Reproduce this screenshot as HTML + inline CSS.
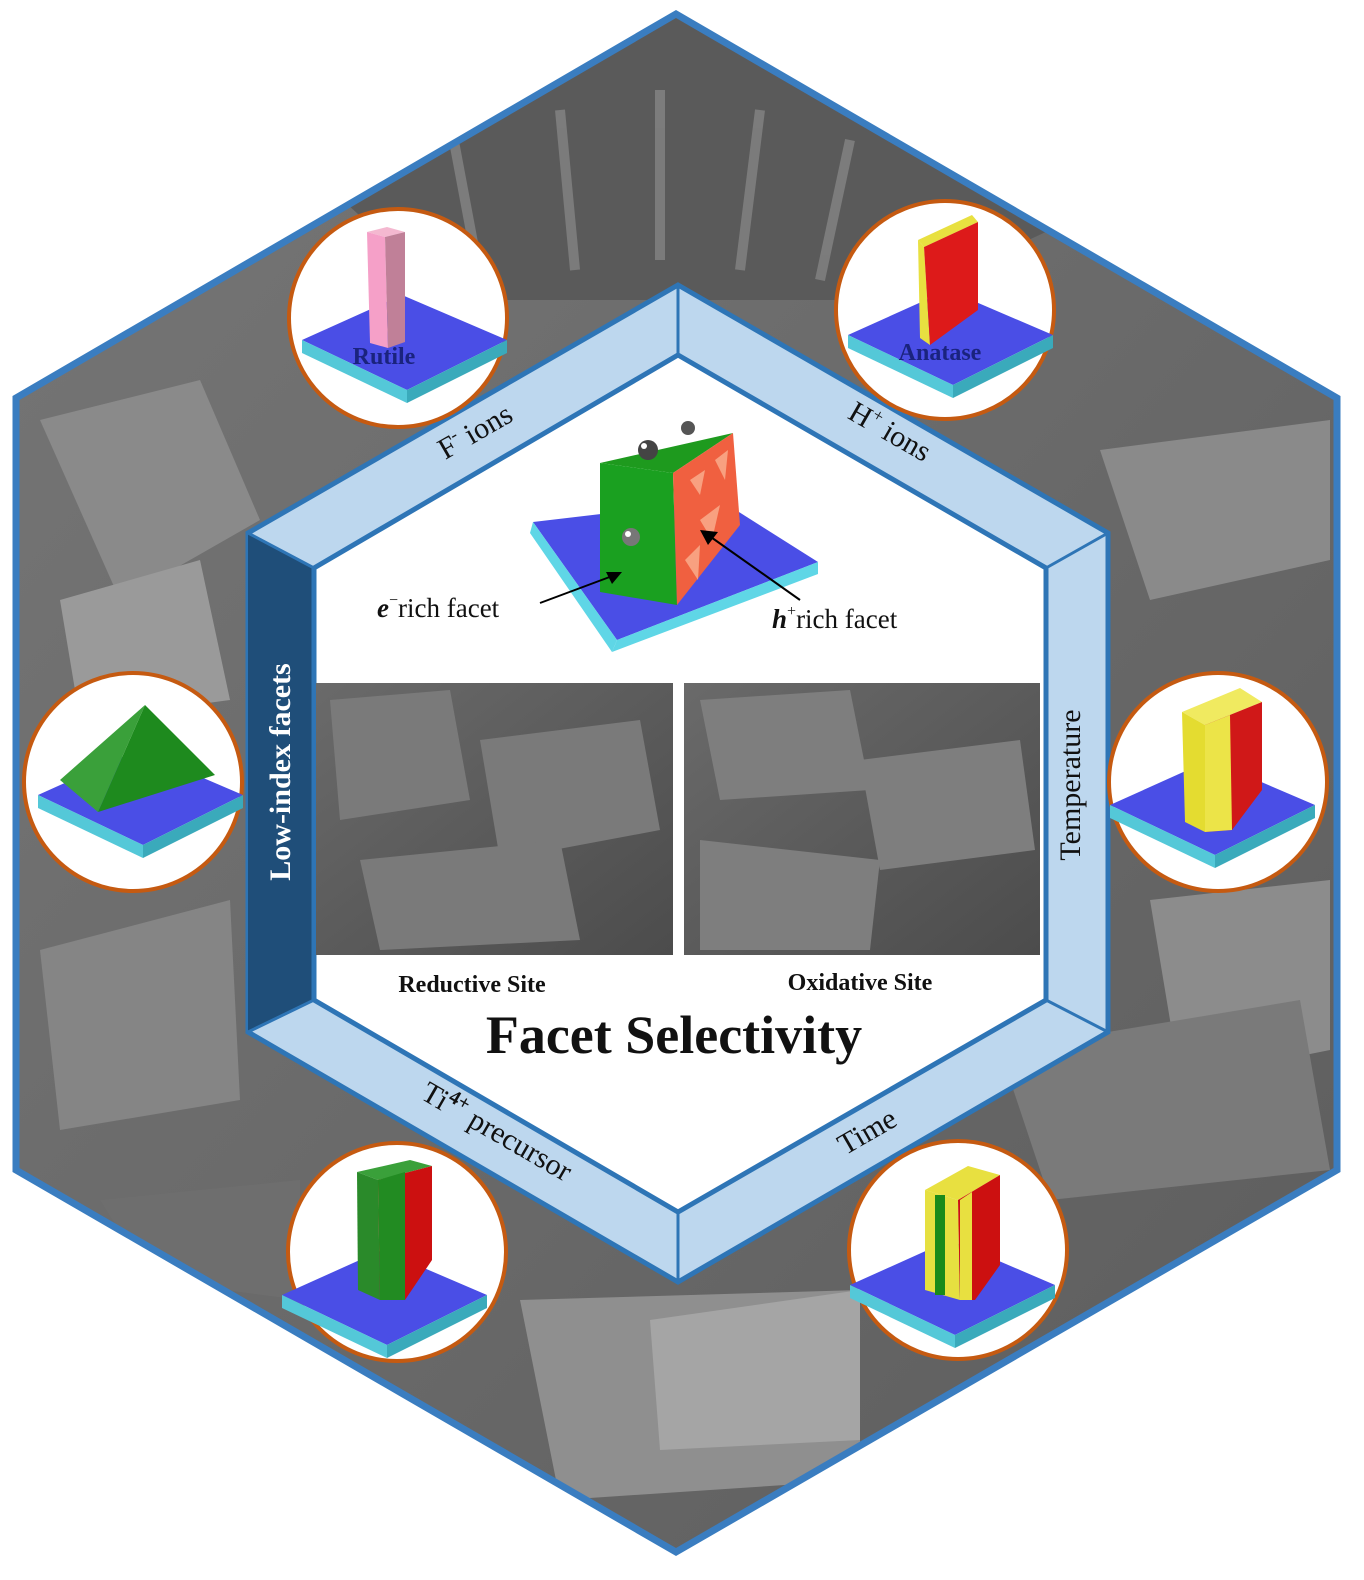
<!DOCTYPE html>
<html><head><meta charset="utf-8"><style>
html,body{margin:0;padding:0;background:#fff;}
svg{display:block}
text{font-family:"Liberation Serif",serif;}
</style></head><body>
<svg width="1364" height="1580" viewBox="0 0 1364 1580" xmlns="http://www.w3.org/2000/svg">
<defs>
<linearGradient id="bg" x1="0" y1="0" x2="1" y2="1">
<stop offset="0" stop-color="#767676"/><stop offset="0.5" stop-color="#6a6a6a"/><stop offset="1" stop-color="#5c5c5c"/>
</linearGradient>
<clipPath id="hex"><polygon points="676,14 1337,398 1337,1170 676,1552 16,1170 16,398"/></clipPath>
<linearGradient id="sem" x1="0" y1="0" x2="1" y2="1"><stop offset="0" stop-color="#6a6a6a"/><stop offset="1" stop-color="#4c4c4c"/></linearGradient>
<g id="sub">
<polygon points="-100,5 0,-40 105,5 5,55" fill="#4a4ee6"/>
<polygon points="-100,5 5,55 5,68 -100,18" fill="#54c8d8"/>
<polygon points="5,55 105,5 105,18 5,68" fill="#3aaabb"/>
</g>
</defs>
<g clip-path="url(#hex)">
<rect width="1364" height="1580" fill="url(#bg)"/>
<polygon points="300,160 676,14 1050,230 900,300 450,300" fill="#5a5a5a"/>
<g stroke="#8a8a8a" stroke-width="10" opacity="0.7">
<line x1="450" y1="120" x2="480" y2="280"/><line x1="560" y1="110" x2="575" y2="270"/><line x1="660" y1="90" x2="660" y2="260"/><line x1="760" y1="110" x2="740" y2="270"/><line x1="850" y1="140" x2="820" y2="280"/>
</g>
<polygon points="40,420 200,380 260,520 120,600" fill="#8a8a8a"/>
<polygon points="60,600 200,560 230,700 80,720" fill="#9a9a9a"/>
<polygon points="1100,450 1330,420 1330,560 1150,600" fill="#8a8a8a"/>
<polygon points="1150,900 1330,880 1330,1050 1180,1080" fill="#8c8c8c"/>
<polygon points="40,950 230,900 240,1100 60,1130" fill="#858585"/>
<polygon points="520,1300 860,1290 860,1480 560,1500" fill="#8f8f8f"/>
<polygon points="650,1320 860,1290 860,1440 660,1450" fill="#a5a5a5"/>
<polygon points="1000,1050 1300,1000 1330,1170 1050,1200" fill="#7a7a7a"/>
<polygon points="100,1200 300,1180 300,1300 150,1280" fill="#6e6e6e"/>
</g>
<polygon points="676,14 1337,398 1337,1170 676,1552 16,1170 16,398" fill="none" stroke="#3a7dc0" stroke-width="7"/>
<polygon points="678,285 1108,533 1108,1032 678,1282 248,1032 248,533" fill="#bdd7ee" stroke="#2e75b6" stroke-width="5"/>
<polygon points="248,533 314,568 314,1000 248,1032" fill="#1f4e79"/>
<polygon points="678,355 1046,568 1046,1000 678,1212 314,1000 314,568" fill="#fff" stroke="#2e75b6" stroke-width="5"/>
<line x1="678" y1="285" x2="678" y2="355" stroke="#2e75b6" stroke-width="3"/>
<line x1="1108" y1="533" x2="1046" y2="568" stroke="#2e75b6" stroke-width="3"/>
<line x1="1108" y1="1032" x2="1046" y2="1000" stroke="#2e75b6" stroke-width="3"/>
<line x1="678" y1="1282" x2="678" y2="1212" stroke="#2e75b6" stroke-width="3"/>
<line x1="248" y1="1032" x2="314" y2="1000" stroke="#2e75b6" stroke-width="3"/>
<line x1="248" y1="533" x2="314" y2="568" stroke="#2e75b6" stroke-width="3"/>
<text transform="translate(480,440) rotate(-30)" font-size="30" text-anchor="middle" fill="#111">F<tspan font-size="18" dy="-12">-</tspan><tspan dy="12"> ions</tspan></text>
<text transform="translate(885,440) rotate(30)" font-size="30" text-anchor="middle" fill="#111">H<tspan font-size="18" dy="-12">+</tspan><tspan dy="12"> ions</tspan></text>
<text transform="translate(1080,785) rotate(-90)" font-size="30" text-anchor="middle" fill="#111">Temperature</text>
<text transform="translate(872,1140) rotate(-30)" font-size="30" text-anchor="middle" fill="#111">Time</text>
<text transform="translate(492,1140) rotate(30)" font-size="30" text-anchor="middle" fill="#111">Ti<tspan font-size="20" font-weight="bold" dy="-12">4+</tspan><tspan dy="12"> precursor</tspan></text>
<text transform="translate(290,772) rotate(-90)" font-size="30" font-weight="bold" text-anchor="middle" fill="#fff">Low-index facets</text>
<polygon points="533,522 720,500 818,562 617,640" fill="#4a4ee6"/>
<polygon points="533,522 617,640 612,652 530,533" fill="#5fd6e6"/>
<polygon points="617,640 818,562 818,574 612,652" fill="#5fd6e6"/>
<polygon points="600,463 733,433 673,473" fill="#1e9a1e"/>
<polygon points="600,463 673,473 677,605 600,592" fill="#1aa020"/>
<polygon points="673,473 733,433 740,525 677,605" fill="#f06040"/>
<g fill="#f8a080"><polygon points="690,480 705,470 700,495"/><polygon points="700,520 720,505 712,540"/><polygon points="685,560 700,545 698,580"/><polygon points="715,460 728,450 725,480"/></g>
<circle cx="648" cy="450" r="10" fill="#444"/><circle cx="644" cy="446" r="3" fill="#fff"/>
<circle cx="688" cy="428" r="7" fill="#555"/>
<circle cx="631" cy="537" r="9" fill="#777"/><circle cx="628" cy="534" r="3" fill="#fff"/>
<line x1="540" y1="603" x2="615" y2="575" stroke="#000" stroke-width="2"/><polygon points="622,572 606,572 612,584" fill="#000"/>
<line x1="800" y1="600" x2="708" y2="535" stroke="#000" stroke-width="2"/><polygon points="700,530 718,532 708,545" fill="#000"/>
<text x="377" y="617" font-size="27" fill="#111"><tspan font-style="italic" font-weight="bold">e</tspan><tspan font-size="16" dy="-12">−</tspan><tspan dy="12">rich facet</tspan></text>
<text x="772" y="628" font-size="27" fill="#111"><tspan font-style="italic" font-weight="bold">h</tspan><tspan font-size="16" dy="-12">+</tspan><tspan dy="12">rich facet</tspan></text>
<rect x="316" y="683" width="357" height="272" fill="url(#sem)"/>
<g fill="#7a7a7a"><polygon points="330,700 450,690 470,800 340,820"/><polygon points="480,740 640,720 660,830 500,860"/><polygon points="360,860 560,840 580,940 380,950"/></g>
<rect x="684" y="683" width="356" height="272" fill="url(#sem)"/>
<g fill="#7e7e7e"><polygon points="700,700 850,690 870,790 720,800"/><polygon points="860,760 1020,740 1035,850 880,870"/><polygon points="700,840 880,860 870,950 700,950"/></g>
<text x="472" y="992" font-size="24" font-weight="bold" text-anchor="middle" fill="#111">Reductive Site</text>
<text x="860" y="990" font-size="24" font-weight="bold" text-anchor="middle" fill="#111">Oxidative Site</text>
<text x="674" y="1053" font-size="54" font-weight="bold" text-anchor="middle" fill="#111">Facet Selectivity</text>
<g stroke="#c55a11" stroke-width="4" fill="#fff">
<circle cx="398" cy="318" r="109"/><circle cx="945" cy="310" r="109"/>
<circle cx="1218" cy="782" r="109"/><circle cx="133" cy="782" r="109"/>
<circle cx="397" cy="1252" r="109"/><circle cx="958" cy="1250" r="109"/>
</g>
<use href="#sub" x="402" y="335"/>
<polygon points="367,232 387,227 405,232 385,237" fill="#f4b8d0"/>
<polygon points="367,232 385,237 388,348 370,343" fill="#f5a0c8"/>
<polygon points="385,237 405,232 405,342 388,348" fill="#c08098"/>
<text x="384" y="364" font-size="24" font-weight="bold" text-anchor="middle" fill="#1a237e">Rutile</text>
<use href="#sub" x="948" y="330"/>
<polygon points="918,240 972,215 978,222 924,247" fill="#e8e040"/>
<polygon points="918,240 924,247 930,345 920,338" fill="#e8e040"/>
<polygon points="924,247 978,222 978,310 930,345" fill="#dd1a1a"/>
<text x="940" y="360" font-size="24" font-weight="bold" text-anchor="middle" fill="#1a237e">Anatase</text>
<use href="#sub" x="1210" y="800"/>
<polygon points="1182,712 1240,688 1262,702 1205,725" fill="#f0ea60"/>
<polygon points="1182,712 1205,725 1205,832 1185,822" fill="#e4dc30"/>
<polygon points="1205,725 1262,702 1262,790 1232,830 1205,832" fill="#d01818"/>
<polygon points="1205,725 1230,715 1232,830 1205,832" fill="#ece448"/>
<use href="#sub" x="138" y="790"/>
<polygon points="98,812 145,705 215,775" fill="#1e8a1e"/>
<polygon points="60,780 145,705 98,812" fill="#3aa03a"/>
<use href="#sub" x="382" y="1290"/>
<polygon points="357,1172 410,1160 432,1166 378,1180" fill="#3aa03a"/>
<polygon points="357,1172 378,1180 380,1300 358,1290" fill="#2a8a2a"/>
<polygon points="378,1180 432,1166 432,1260 405,1300 380,1300" fill="#cc1010"/>
<polygon points="378,1180 405,1172 405,1300 380,1300" fill="#228b22"/>
<use href="#sub" x="950" y="1280"/>
<polygon points="925,1190 968,1166 1000,1175 958,1200" fill="#e8e040"/>
<polygon points="925,1190 958,1200 960,1300 925,1290" fill="#e6e040"/>
<rect x="935" y="1195" width="10" height="100" fill="#1a8a1a"/>
<polygon points="958,1200 1000,1175 1000,1265 975,1300 960,1300" fill="#cc1010"/>
<polygon points="960,1200 972,1192 972,1300 960,1300" fill="#e8e040"/>
</svg>
</body></html>
